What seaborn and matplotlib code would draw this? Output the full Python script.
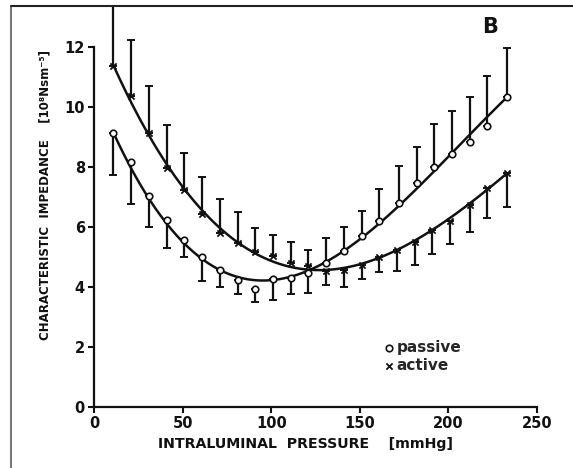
import numpy as np
import pandas as pd
import matplotlib
matplotlib.use("Agg")
import matplotlib.pyplot as plt
from matplotlib.lines import Line2D
import seaborn as sns

# Intraluminal pressure (mmHg) at which impedance was measured
pressure_passive = [11, 21, 31, 41, 51, 61, 71, 81, 91, 101, 111, 121,
                    131, 141, 151, 161, 172, 182, 192, 202, 212, 222, 233]
pressure_active = [11, 21, 31, 41, 51, 61, 71, 81, 91, 101, 111, 121,
                   131, 141, 151, 161, 171, 181, 191, 201, 212, 222, 233]

# Characteristic impedance (10^8 N s m^-5), passive vessel
impedance_passive = [9.12, 8.17, 7.03, 6.23, 5.57, 5.01, 4.57, 4.23, 3.92, 4.26, 4.30, 4.48,
                     4.79, 5.20, 5.70, 6.21, 6.79, 7.46, 7.99, 8.43, 8.84, 9.37, 10.34]
# end of the one-sided error bar (lower below 125 mmHg, upper above)
bound_passive = [7.75, 6.77, 6.01, 5.31, 5.01, 4.21, 3.99, 3.76, 3.51, 3.57, 3.76, 3.81,
                 5.62, 6.01, 6.54, 7.26, 8.04, 8.66, 9.43, 9.88, 10.32, 11.03, 11.98]

# Characteristic impedance (10^8 N s m^-5), active vessel
impedance_active = [11.38, 10.37, 9.12, 7.96, 7.23, 6.42, 5.79, 5.46, 5.18, 5.03, 4.79, 4.70,
                    4.54, 4.57, 4.73, 5.01, 5.25, 5.50, 5.90, 6.20, 6.73, 7.29, 7.79]
bound_active = [13.6, 12.23, 10.71, 9.40, 8.46, 7.67, 6.92, 6.49, 5.98, 5.73, 5.51, 5.25,
                4.07, 3.99, 4.27, 4.49, 4.55, 4.75, 5.10, 5.45, 5.85, 6.30, 6.66]

x_ticks = [0, 50, 100, 150, 200, 250]
y_ticks = [0, 2, 4, 6, 8, 10, 12]

sns.set_theme(style="ticks")
plt.rcParams["font.family"] = ["DejaVu Sans"]
plt.rcParams["font.weight"] = "bold"

fig = plt.figure(figsize=(5.73, 4.68), dpi=100)
ax = fig.add_axes([94 / 573, 1 - 407 / 468, (537 - 94) / 573, 402 / 468])

ink = "#111111"


def draw_series(x, y, bound, marker, label):
    x = np.asarray(x, float)
    y = np.asarray(y, float)
    b = np.asarray(bound, float)
    lower = np.clip(y - b, 0, None)
    upper = np.clip(b - y, 0, None)
    ax.errorbar(x, y, yerr=[lower, upper], fmt="none", ecolor=ink,
                elinewidth=1.6, capsize=3.2, capthick=1.4, zorder=2)
    # smooth cubic fit through the measurements, anchored at both ends
    w = np.ones_like(x)
    w[0] = w[-1] = 4.0
    coef = np.polyfit(x, y, 3, w=w)
    xs = np.linspace(x.min(), x.max(), 300)
    fit = pd.DataFrame({"p": xs, "z": np.polyval(coef, xs)})
    sns.lineplot(data=fit, x="p", y="z", ax=ax, color=ink, lw=1.8, zorder=3)
    pts = pd.DataFrame({"p": x, "z": y})
    if marker == "o":
        sns.scatterplot(data=pts, x="p", y="z", ax=ax, marker="o", s=22,
                        facecolor="white", edgecolor=ink, linewidth=1.2,
                        zorder=4, label=label)
    else:
        sns.scatterplot(data=pts, x="p", y="z", ax=ax, marker="x", s=20,
                        color=ink, linewidth=1.3, zorder=4, label=label)


draw_series(pressure_passive, impedance_passive, bound_passive, "o", "passive")
draw_series(pressure_active, impedance_active, bound_active, "x", "active")

ax.set_xlim(0, 250)
ax.set_ylim(0, 13.4)
ax.set_xticks(x_ticks)
ax.set_yticks(y_ticks)
ax.set_xticklabels([str(v) for v in x_ticks], fontsize=10.5, fontweight="bold")
ax.set_yticklabels([str(v) for v in y_ticks], fontsize=10.5, fontweight="bold")
ax.set_xlabel("")
ax.set_ylabel("")
sns.despine(ax=ax)
ax.spines["left"].set_bounds(0, 12)
for s in ("left", "bottom"):
    ax.spines[s].set_linewidth(1.6)
    ax.spines[s].set_color(ink)
ax.tick_params(axis="both", direction="out", length=4.5, width=1.5, colors=ink,
               pad=2)

leg = ax.legend(loc="upper left", bbox_to_anchor=(292 / 443, 67 / 402),
                frameon=False, handlelength=0.4, handletextpad=0.3,
                labelspacing=0.2, borderpad=0, borderaxespad=0,
                prop={"size": 11, "weight": "bold"})

ax.text(0.895, 0.945, "B", transform=ax.transAxes, fontsize=15,
        fontweight="bold", color=ink, ha="center", va="center")

fig.text(305 / 573, 1 - 444 / 468, "INTRALUMINAL  PRESSURE    [mmHg]",
         ha="center", va="center", fontsize=10.2, fontweight="bold", color=ink)
fig.text(45 / 573, 1 - 195 / 468, "CHARACTERISTIC  IMPEDANCE    [10⁸Nsm⁻⁵]",
         rotation=90, ha="center", va="center", fontsize=8.5,
         fontweight="bold", color=ink)

# page border on the left and top
fig.add_artist(Line2D([10.5 / 573, 10.5 / 573], [0, 1 - 6 / 468],
                      transform=fig.transFigure, color="#777777", lw=1.5))
fig.add_artist(Line2D([10.5 / 573, 1], [1 - 6 / 468, 1 - 6 / 468],
                      transform=fig.transFigure, color="#222222", lw=1.5))

fig.savefig("out.png", dpi=100)
